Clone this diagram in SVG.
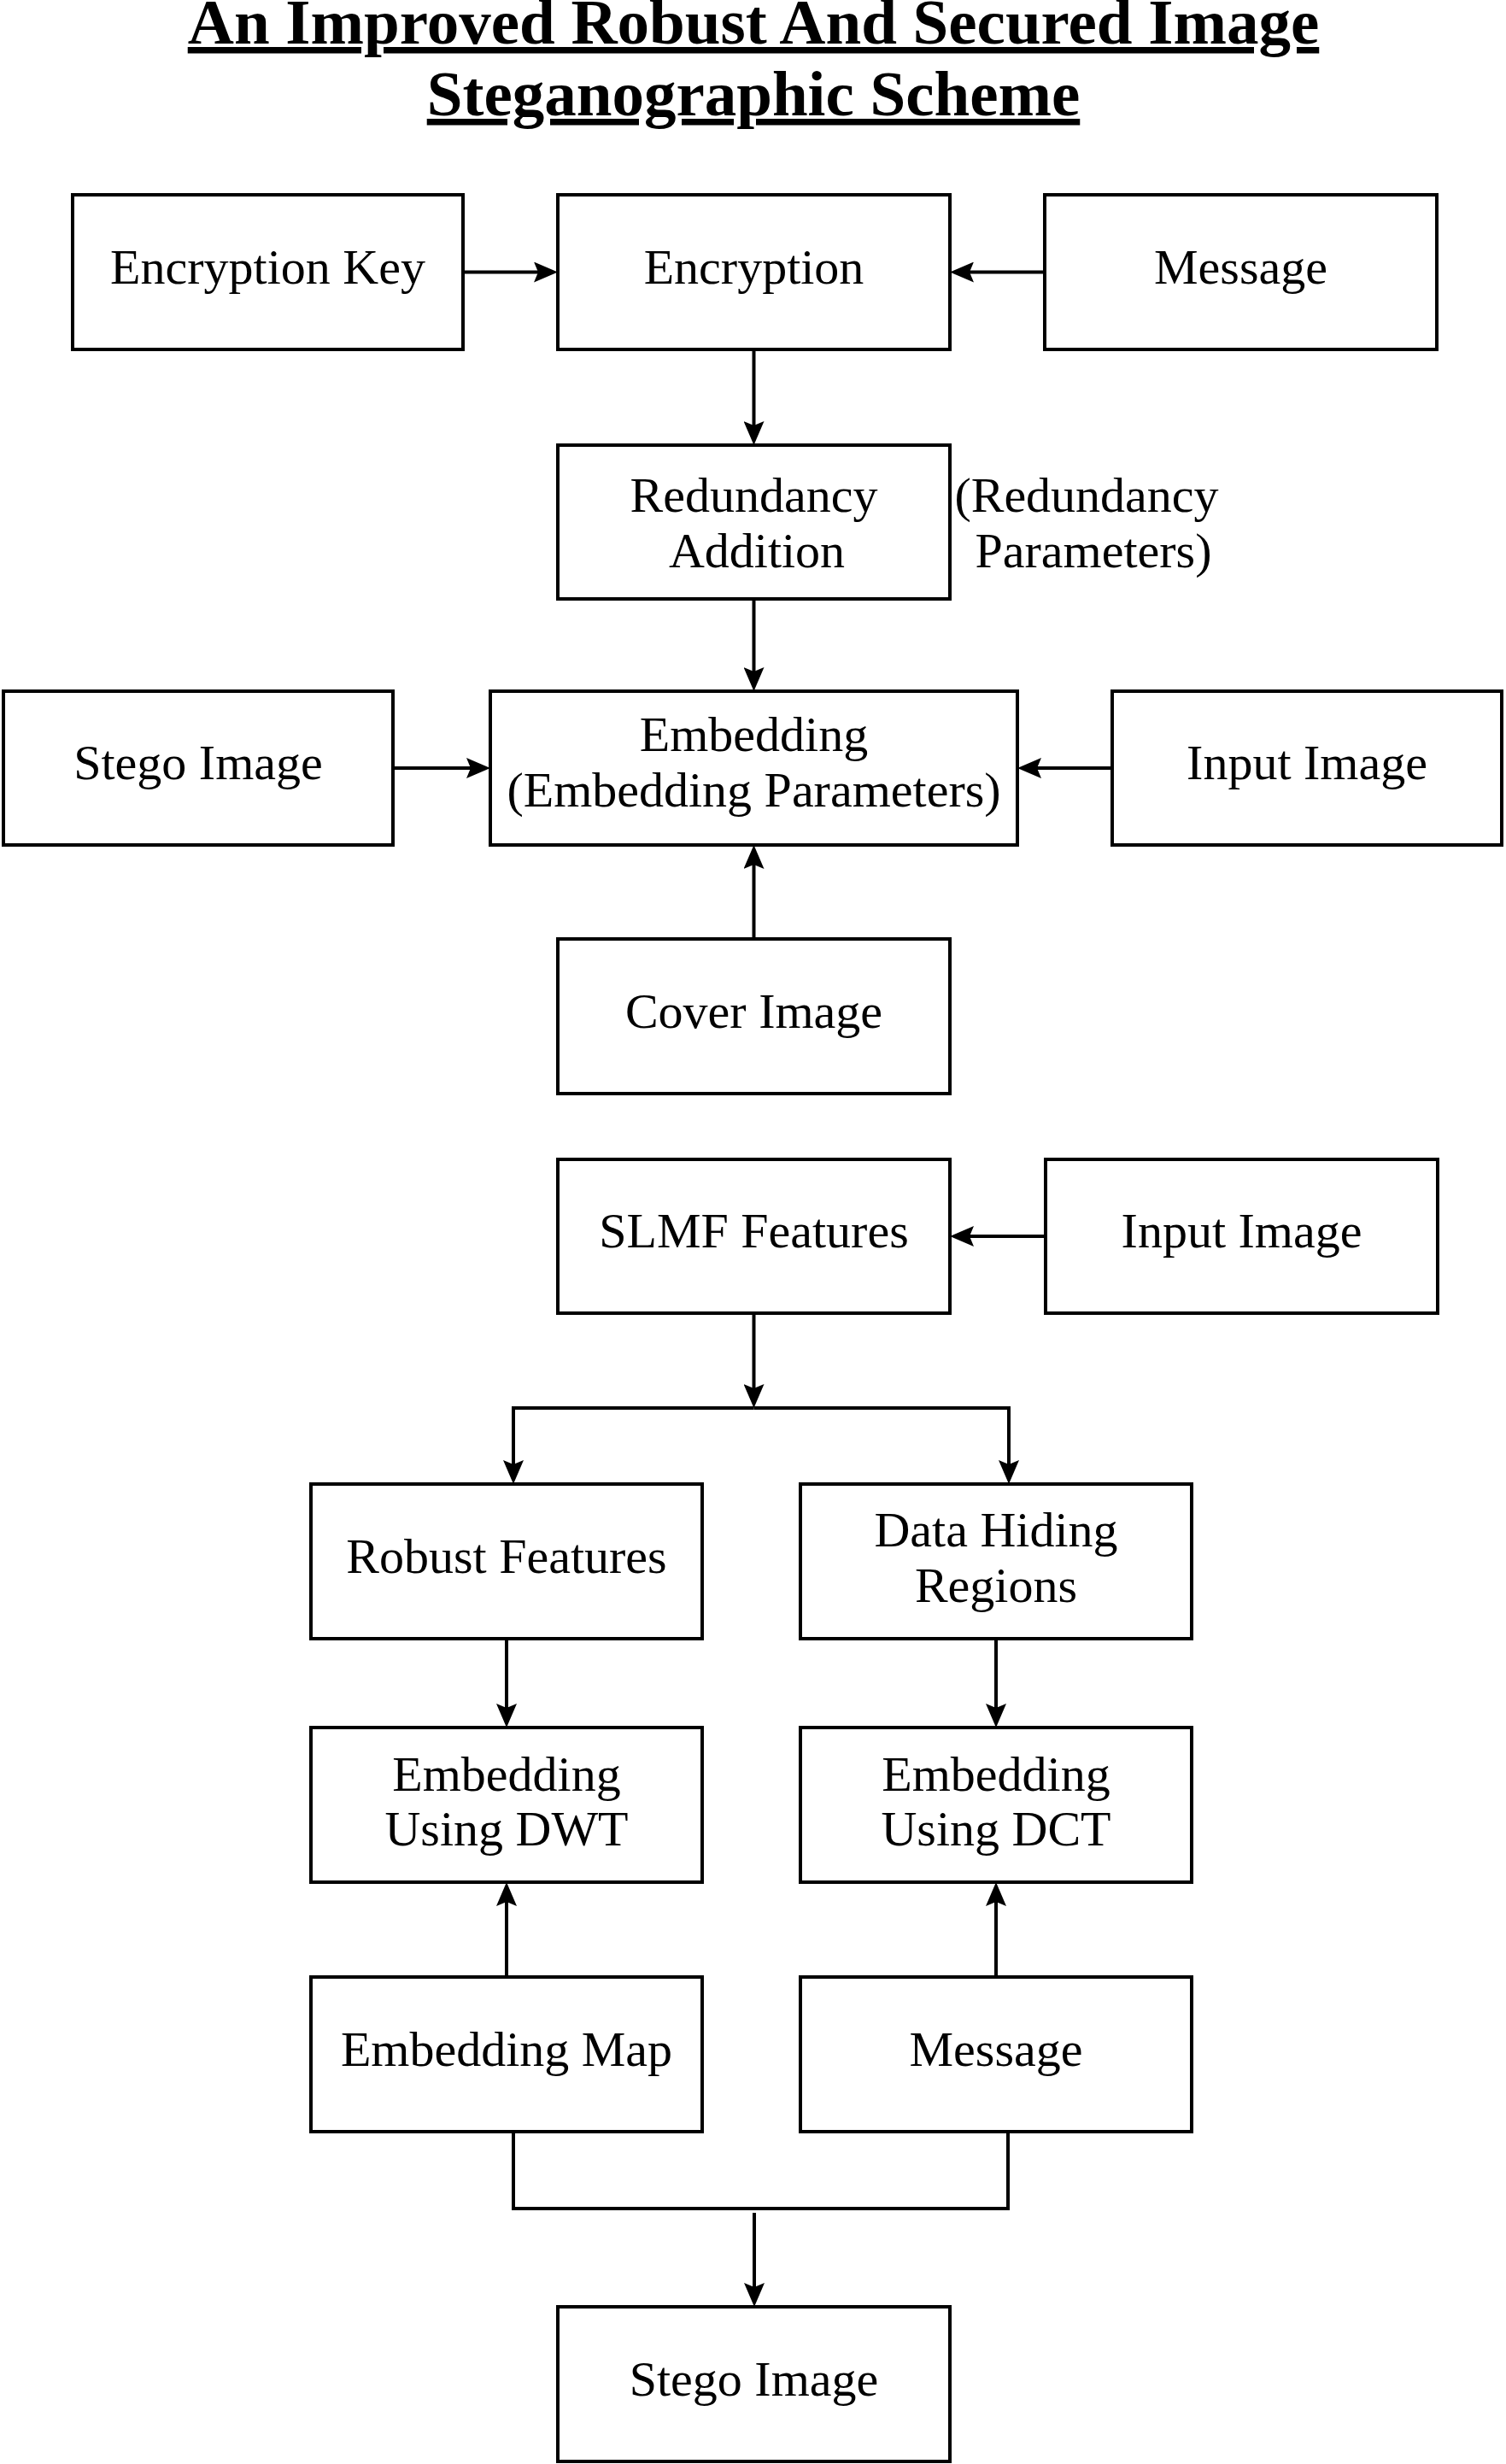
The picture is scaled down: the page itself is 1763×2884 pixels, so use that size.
<svg xmlns="http://www.w3.org/2000/svg" width="1763" height="2884" viewBox="0 0 1763 2884">
<style>
  .box { fill: #ffffff; stroke: #000000; stroke-width: 4; }
  .lbl { font-family: "Liberation Serif", "Times New Roman", serif; font-size: 58px; fill: #000000; text-anchor: middle; }
  .title { font-family: "Liberation Serif", "Times New Roman", serif; font-size: 75px; font-weight: bold; fill: #000000; text-anchor: middle; text-decoration: underline; }
  .conn { fill: none; stroke: #000000; stroke-width: 4; }
</style>
<defs>
  <marker id="arr" viewBox="0 0 28 24" refX="18" refY="12" markerWidth="28" markerHeight="24" markerUnits="userSpaceOnUse" orient="auto">
    <path d="M0,0 L28,12 L0,24 L5,12 Z" fill="#000000"/>
  </marker>
</defs>
<rect x="0" y="0" width="1763" height="2884" fill="#ffffff"/>

<g id="title">
  <text class="title" x="882" y="51">An Improved Robust And Secured Image</text>
  <text class="title" x="882" y="135">Steganographic Scheme</text>
</g>

<g id="connectors">
  <path class="conn" d="M542,318.5 H643" marker-end="url(#arr)"/>
  <path class="conn" d="M1223,318.5 H1122" marker-end="url(#arr)"/>
  <path class="conn" d="M882.5,409 V511" marker-end="url(#arr)"/>
  <path class="conn" d="M882.5,701 V799" marker-end="url(#arr)"/>
  <path class="conn" d="M460,899 H564" marker-end="url(#arr)"/>
  <path class="conn" d="M1302,899 H1201" marker-end="url(#arr)"/>
  <path class="conn" d="M882.5,1099 V999" marker-end="url(#arr)"/>
  <path class="conn" d="M1224,1447 H1122" marker-end="url(#arr)"/>
  <path class="conn" d="M882.5,1537 V1638" marker-end="url(#arr)"/>
  <path class="conn" d="M882.5,1648 H601 V1727" marker-end="url(#arr)"/>
  <path class="conn" d="M882.5,1648 H1181 V1727" marker-end="url(#arr)"/>
  <path class="conn" d="M593,1918 V2012" marker-end="url(#arr)"/>
  <path class="conn" d="M1166,1918 V2012" marker-end="url(#arr)"/>
  <path class="conn" d="M593,2314 V2213" marker-end="url(#arr)"/>
  <path class="conn" d="M1166,2314 V2213" marker-end="url(#arr)"/>
  <path class="conn" d="M601,2495 V2585 H1180 V2495"/>
  <path class="conn" d="M883,2590 V2690" marker-end="url(#arr)"/>
</g>

<g id="encryption-key">
  <rect class="box" x="85" y="228" width="457" height="181"/>
  <text class="lbl" x="313.5" y="332">Encryption Key</text>
</g>
<g id="encryption">
  <rect class="box" x="653" y="228" width="459" height="181"/>
  <text class="lbl" x="882.5" y="332">Encryption</text>
</g>
<g id="message-1">
  <rect class="box" x="1223" y="228" width="459" height="181"/>
  <text class="lbl" x="1452.5" y="332">Message</text>
</g>
<g id="redundancy-addition">
  <rect class="box" x="653" y="521" width="459" height="180"/>
  <text class="lbl" x="882.5" y="599">Redundancy</text>
  <text class="lbl" x="886" y="664">Addition</text>
</g>
<g id="redundancy-parameters">
  <text class="lbl" x="1272" y="599">(Redundancy</text>
  <text class="lbl" x="1280" y="664">Parameters)</text>
</g>
<g id="stego-image-1">
  <rect class="box" x="4" y="809" width="456" height="180"/>
  <text class="lbl" x="232" y="912">Stego Image</text>
</g>
<g id="embedding">
  <rect class="box" x="574" y="809" width="617" height="180"/>
  <text class="lbl" x="882.5" y="879">Embedding</text>
  <text class="lbl" x="882.5" y="944">(Embedding Parameters)</text>
</g>
<g id="input-image-1">
  <rect class="box" x="1302" y="809" width="456" height="180"/>
  <text class="lbl" x="1530" y="912">Input Image</text>
</g>
<g id="cover-image">
  <rect class="box" x="653" y="1099" width="459" height="181"/>
  <text class="lbl" x="882.5" y="1203">Cover Image</text>
</g>
<g id="slmf-features">
  <rect class="box" x="653" y="1357" width="459" height="180"/>
  <text class="lbl" x="882.5" y="1460">SLMF Features</text>
</g>
<g id="input-image-2">
  <rect class="box" x="1224" y="1357" width="459" height="180"/>
  <text class="lbl" x="1453.5" y="1460">Input Image</text>
</g>
<g id="robust-features">
  <rect class="box" x="364" y="1737" width="458" height="181"/>
  <text class="lbl" x="593" y="1841">Robust Features</text>
</g>
<g id="data-hiding-regions">
  <rect class="box" x="937" y="1737" width="458" height="181"/>
  <text class="lbl" x="1166" y="1810">Data Hiding</text>
  <text class="lbl" x="1166" y="1875">Regions</text>
</g>
<g id="embedding-dwt">
  <rect class="box" x="364" y="2022" width="458" height="181"/>
  <text class="lbl" x="593" y="2096">Embedding</text>
  <text class="lbl" x="593" y="2160">Using DWT</text>
</g>
<g id="embedding-dct">
  <rect class="box" x="937" y="2022" width="458" height="181"/>
  <text class="lbl" x="1166" y="2096">Embedding</text>
  <text class="lbl" x="1166" y="2160">Using DCT</text>
</g>
<g id="embedding-map">
  <rect class="box" x="364" y="2314" width="458" height="181"/>
  <text class="lbl" x="593" y="2418">Embedding Map</text>
</g>
<g id="message-2">
  <rect class="box" x="937" y="2314" width="458" height="181"/>
  <text class="lbl" x="1166" y="2418">Message</text>
</g>
<g id="stego-image-2">
  <rect class="box" x="653" y="2700" width="459" height="181"/>
  <text class="lbl" x="882.5" y="2804">Stego Image</text>
</g>
</svg>
